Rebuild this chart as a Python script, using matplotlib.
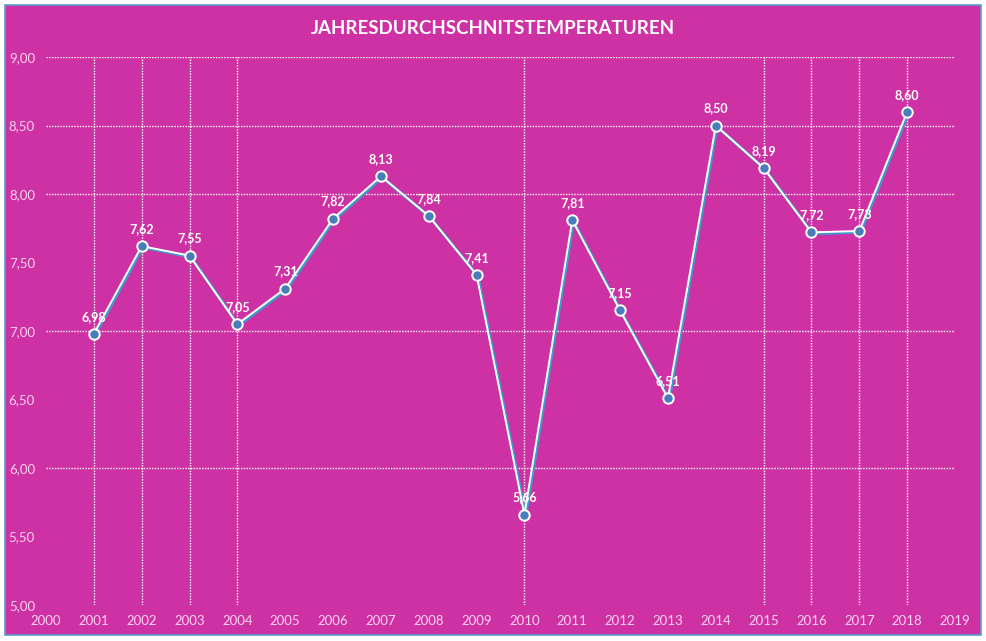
import numpy as np
import matplotlib.pyplot as plt
import matplotlib.transforms as mtransforms
from matplotlib.patches import Rectangle
from matplotlib.ticker import FuncFormatter

years = [2001, 2002, 2003, 2004, 2005, 2006, 2007, 2008, 2009,
         2010, 2011, 2012, 2013, 2014, 2015, 2016, 2017, 2018]
temps = [6.98, 7.62, 7.55, 7.05, 7.31, 7.82, 8.13, 7.84, 7.41,
         5.66, 7.81, 7.15, 6.51, 8.50, 8.19, 7.72, 7.73, 8.60]
hgrid = [6.0, 7.0, 8.0, 8.5, 9.0]
vgrid = [2001, 2002, 2003, 2004, 2010, 2015, 2016, 2017, 2018]
title = 'JAHRESDURCHSCHNITSTEMPERATUREN'

bg = '#CE31A3'
tick_col = '#F7D3EC'
plt.rcParams['font.family'] = ['Lato', 'DejaVu Sans']

fig = plt.figure(figsize=(9.87, 6.41), dpi=100, facecolor='white')
fig.patches.append(Rectangle((5 / 987, 6 / 641), 976 / 987, 630 / 641,
                             transform=fig.transFigure, facecolor=bg,
                             edgecolor='#5B9BD5', linewidth=1.2, zorder=-5))
ax = fig.add_axes([46 / 987, 1 - 605 / 641, 909 / 987, 548 / 641])
ax.set_facecolor('none')
ax.set_zorder(2)

for y in hgrid:
    ax.axhline(y, color='white', linestyle=(0, (1, 1)), linewidth=1, zorder=1)
for x in vgrid:
    ax.axvline(x, color='white', linestyle=(0, (1, 1)), linewidth=1, zorder=1)

shadow = mtransforms.offset_copy(ax.transData, fig=fig, x=1.2, y=-1.2, units='dots')
ax.plot(years, temps, color='#3E9BC9', linewidth=2.2, transform=shadow, zorder=2)
ax.plot(years, temps, color='white', linewidth=1.4, zorder=3)
ax.plot(years, temps, linestyle='none', marker='o', markersize=7.5,
        markerfacecolor='#4A7EBB', markeredgecolor='white', markeredgewidth=1.4, zorder=4)

for x, y in zip(years, temps):
    ax.annotate(f'{y:.2f}'.replace('.', ','), (x, y), xytext=(0, 8),
                textcoords='offset points', ha='center', va='bottom',
                color='white', fontsize=9, fontweight='bold', zorder=5)

ax.set_xlim(2000, 2019)
ax.set_ylim(5, 9)
ax.set_xticks(range(2000, 2020))
ax.set_yticks(np.arange(5, 9.01, 0.5))
ax.yaxis.set_major_formatter(FuncFormatter(lambda v, p: f'{v:.2f}'.replace('.', ',')))
ax.tick_params(axis='both', length=0, colors=tick_col, labelsize=9.5)
ax.tick_params(axis='y', pad=8)
ax.tick_params(axis='x', pad=7)
for s in ax.spines.values():
    s.set_visible(False)

fig.text(493 / 987, 1 - 28 / 641, title, ha='center', va='center',
         color='white', fontsize=13.5, fontweight='bold')

fig.savefig('out.png', dpi=100, facecolor='white')
